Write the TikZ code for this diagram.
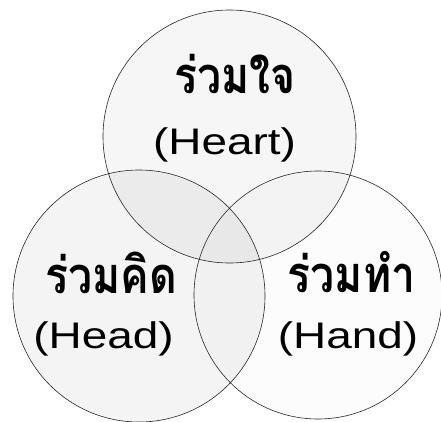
\documentclass[tikz,border=0pt]{standalone}
\usepackage{fontspec}
\setmainfont{Liberation Sans}
\newfontfamily\thaifont[Script=Thai]{Loma}
\begin{document}
\begin{tikzpicture}[x=1pt,y=-1pt,
  ring/.style={draw=black!85,line width=0.6pt},
  lat/.style={font=\fontsize{37}{40}\selectfont,inner sep=0pt,anchor=base,xscale=1.24},
  thai/.style={font=\thaifont\bfseries\fontsize{46}{50}\selectfont,inner sep=0pt,anchor=base,xscale=0.93,yscale=1.1}]
\useasboundingbox (0,0) rectangle (441,421);
\begin{scope}
\clip (0,0) rectangle (441,421);
\fill[black,opacity=0.035] (229.5,136.5) circle[radius=126.5];
\fill[black,opacity=0.045] (139,296) circle[radius=126];
\fill[black,opacity=0.012] (318,295) circle[radius=124];
\draw[ring] (229.5,136.5) circle[radius=126.5];
\draw[ring] (139,296) circle[radius=126];
\draw[ring] (318,295) circle[radius=124];
\end{scope}
\node[thai] (t1) at (235,93) {ร่วมใจ};
\node[lat] (e1) at (224.5,154) {(Heart)};
\node[thai] (t2) at (111,293) {ร่วมคิด};
\node[lat] (e2) at (103.5,348) {(Head)};
\node[thai] (t3) at (351.5,292) {ร่วมทำ};
\node[lat] (e3) at (348,348) {(Hand)};
\end{tikzpicture}
\end{document}
